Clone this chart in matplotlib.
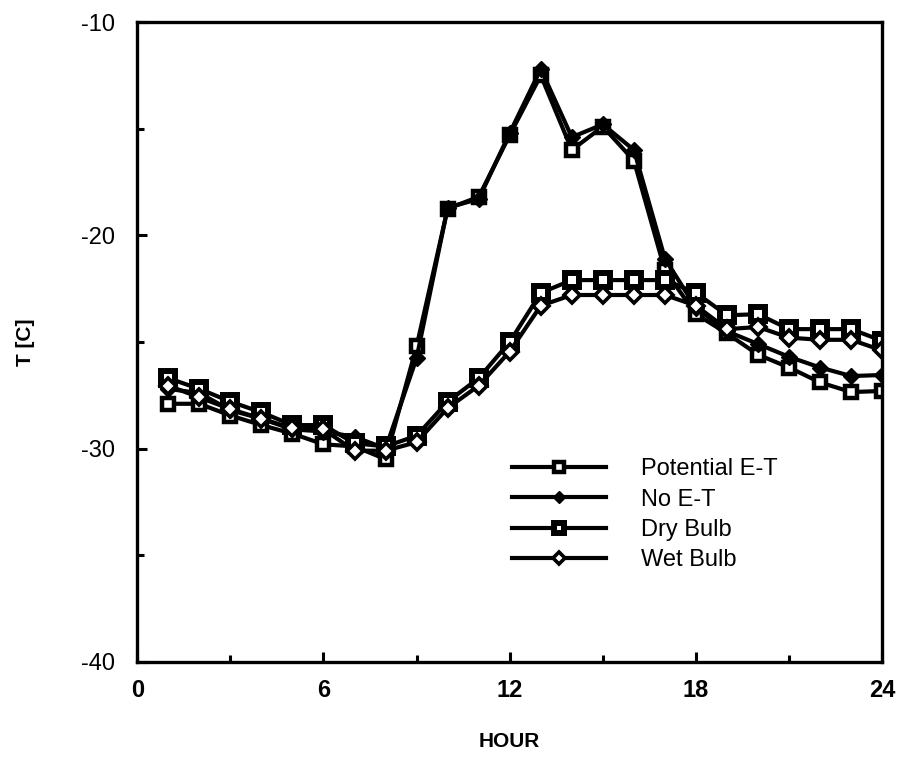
import numpy as np
import matplotlib
matplotlib.use("Agg")
import matplotlib.pyplot as plt

plt.rcParams['font.family'] = ['Liberation Sans', 'DejaVu Sans']
plt.rcParams['axes.unicode_minus'] = False

hours = np.arange(1, 25)

# Temperaturen [C]
potential_et = [-27.9, -27.9, -28.45, -28.9, -29.3, -29.8, -29.9, -30.5,
                -25.2, -18.75, -18.2, -15.3, -12.5, -16.0, -14.9, -16.5,
                -21.65, -23.7, -24.6, -25.6, -26.2, -26.9, -27.35, -27.3]
no_et = [-27.2, -27.4, -28.2, -28.6, -29.1, -29.2, -29.45, -30.0,
         -25.75, -18.7, -18.3, -15.2, -12.2, -15.4, -14.8, -16.0,
         -21.1, -23.4, -24.5, -25.1, -25.7, -26.2, -26.6, -26.55]
dry_bulb = [-26.7, -27.2, -27.8, -28.3, -28.9, -28.9, -29.75, -29.9,
            -29.4, -27.8, -26.7, -25.0, -22.7, -22.1, -22.1, -22.1,
            -22.1, -22.7, -23.75, -23.7, -24.4, -24.4, -24.4, -24.95]
wet_bulb = [-27.05, -27.6, -28.15, -28.6, -29.05, -29.1, -30.1, -30.1,
            -29.7, -28.1, -27.05, -25.45, -23.3, -22.8, -22.8, -22.8,
            -22.8, -23.3, -24.4, -24.3, -24.8, -24.9, -24.9, -25.4]

labels = ['Potential E-T', 'No E-T', 'Dry Bulb', 'Wet Bulb']

fig = plt.figure(figsize=(9.03, 7.59), dpi=100)
ax = fig.add_axes([0.152, 0.128, 0.825, 0.843])

lw = 3.0
ax.plot(hours, potential_et, color='k', lw=lw, marker='s', ms=9,
        mfc='white', mec='k', mew=3.2, label=labels[0])
ax.plot(hours, no_et, color='k', lw=lw, marker='D', ms=8,
        mfc='k', mec='k', label=labels[1])
ax.plot(hours, dry_bulb, color='k', lw=lw, marker='s', ms=10,
        mfc='white', mec='k', mew=4.3, label=labels[2])
ax.plot(hours, wet_bulb, color='k', lw=lw, marker='D', ms=8,
        mfc='white', mec='k', mew=2.6, label=labels[3])

ax.set_xlim(0, 24)
ax.set_ylim(-40, -10)
ax.set_xticks([0, 6, 12, 18, 24])
ax.set_xticks([3, 9, 15, 21], minor=True)
ax.set_yticks([-40, -30, -20, -10])
ax.set_yticks([-35, -25, -15], minor=True)
ax.tick_params(which='major', direction='in', length=7, width=2.2, pad=12)
ax.tick_params(which='minor', direction='in', length=5, width=2.2)
ax.tick_params(axis='y', which='major', pad=16)
for s in ax.spines.values():
    s.set_linewidth(2.4)

for t in ax.get_xticklabels():
    t.set_fontsize(17)
    t.set_fontweight('bold')
for t in ax.get_yticklabels():
    t.set_fontsize(17)

ax.set_ylabel('T [C]', fontsize=15, fontweight='bold', labelpad=33)
ax.set_xlabel('HOUR', fontsize=15, fontweight='bold', labelpad=22)

leg = ax.legend(loc='upper left', bbox_to_anchor=(0.503, 0.318), frameon=False,
                fontsize=17, handlelength=4.0, handletextpad=1.45,
                labelspacing=0.35, borderpad=0, borderaxespad=0,
                markerscale=0.75)

fig.savefig('out.png', dpi=100)
